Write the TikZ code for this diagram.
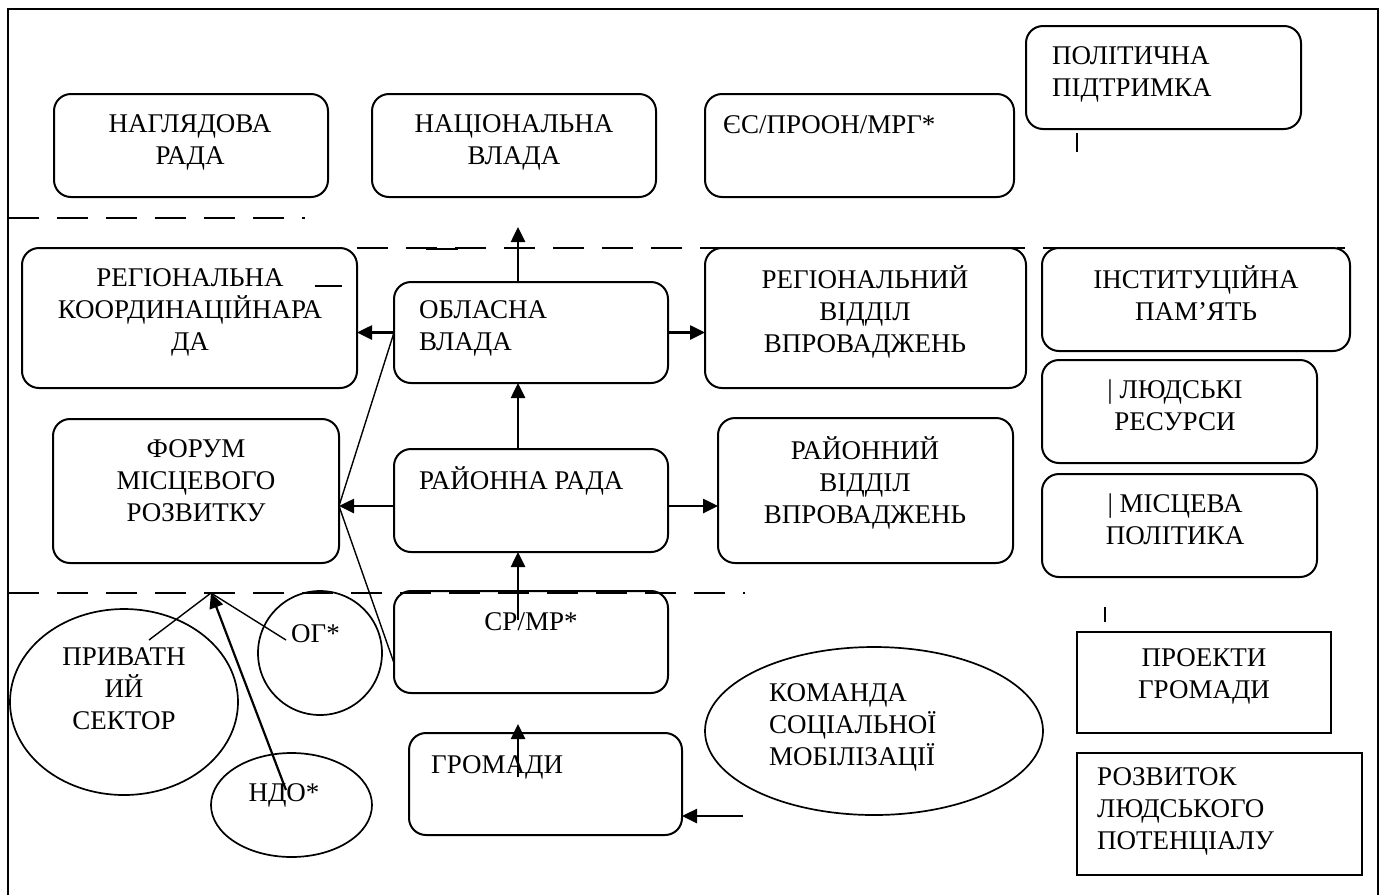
\documentclass[tikz,border=0pt]{standalone}
\usepackage{fontspec}
\setmainfont{Liberation Serif}
\usetikzlibrary{arrows.meta,fit,shapes.geometric}
\begin{document}
\begin{tikzpicture}[x=1pt,y=-1pt,
  box/.style={draw, rounded corners=17pt, line width=2pt, inner sep=0pt, outer sep=0pt},
  sqbox/.style={draw, line width=2.2pt, inner sep=0pt, outer sep=0pt},
  ell/.style={draw, ellipse, line width=1.7pt, inner sep=0pt, outer sep=0pt},
  txt/.style={inner sep=0pt, font=\fontsize{27}{32}\selectfont, execute at begin node=\strut, execute at end node=\strut},
  arr/.style={line width=2.6pt, -{Triangle[length=15pt,width=14pt]}},
  thinline/.style={line width=1.4pt},
  dashline/.style={line width=2pt, dash pattern=on 31pt off 18pt},
  tick/.style={line width=1.6pt},
]
\useasboundingbox (0,0) rectangle (1383,895);
% frame
\draw[line width=2pt] (8,895) -- (8,9) -- (1378,9) -- (1378,895);
% dashed level separators
\draw[dashline] (8,218) -- (305,218);
\draw[dashline] (357,248) -- (1345,248);
\draw[dashline] (8,593) -- (745,593);
\draw[line width=2pt] (426,249) -- (458,249);
\draw[line width=2pt] (315,286) -- (342,286);
% rounded boxes
\node[box, fit={(54,94) (328,197)}] (nag) {};
\node[box, fit={(372,94) (656,197)}] (nat) {};
\node[box, fit={(705,94) (1014,197)}] (es) {};
\node[box, fit={(1026,26) (1301,129)}] (pol) {};
\node[box, fit={(22,248) (357,388)}] (reg) {};
\node[box, fit={(394,282) (668,383)}] (obl) {};
\node[box, fit={(705,248) (1026,388)}] (rvv) {};
\node[box, fit={(1042,248) (1350,351)}] (inst) {};
\node[box, fit={(1042,360) (1317,463)}] (lyud) {};
\node[box, fit={(1042,474) (1317,577)}] (misc) {};
\node[box, fit={(53,419) (339,563)}] (forum) {};
\node[box, fit={(394,449) (668,552)}] (rayon) {};
\node[box, fit={(718,418) (1013,563)}] (rav) {};
\node[box, fit={(394,591) (668,693)}] (srmr) {};
\node[box, fit={(409,733) (682,835)}] (grom) {};
% square boxes
\node[sqbox, fit={(1077,632) (1331,733)}] (pro) {};
\node[sqbox, fit={(1077,753) (1362,875)}] (roz) {};
% ellipses
\node[ell, minimum width=228pt, minimum height=186pt] (pryv) at (124,702) {};
\node[ell, minimum width=124pt, minimum height=124pt] (og) at (320,653) {};
\node[ell, minimum width=161pt, minimum height=104pt] (ndo) at (291.5,805) {};
\node[ell, minimum width=338pt, minimum height=168pt] (kom) at (874,731) {};
% texts
\node[txt, align=center] (tnag) at (190,144) {НАГЛЯДОВА\\РАДА};
\node[txt, align=center] (tnat) at (514,144) {НАЦІОНАЛЬНА\\ВЛАДА};
\node[txt, anchor=west] (tes) at (723,127) {ЄС/ПРООН/МРГ*};
\node[txt, align=left, anchor=west] (tpol) at (1052,76) {ПОЛІТИЧНА\\ПІДТРИМКА};
\node[txt, align=center] (treg) at (190,314) {РЕГІОНАЛЬНА\\КООРДИНАЦІЙНАРА\\ДА};
\node[txt, align=left, anchor=west] (tobl) at (419,330) {ОБЛАСНА\\ВЛАДА};
\node[txt, align=center] (trvv) at (865,314) {РЕГІОНАЛЬНИЙ\\ВІДДІЛ\\ВПРОВАДЖЕНЬ};
\node[txt, align=center] (tinst) at (1196,298) {ІНСТИТУЦІЙНА\\ПАМ’ЯТЬ};
\node[txt, align=center] (tlyud) at (1175,410) {| ЛЮДСЬКІ\\РЕСУРСИ};
\node[txt, align=center] (tmisc) at (1175,524) {| МІСЦЕВА\\ПОЛІТИКА};
\node[txt, align=center] (tforum) at (196,485) {ФОРУМ\\МІСЦЕВОГО\\РОЗВИТКУ};
\node[txt, anchor=west] (trayon) at (419,483) {РАЙОННА РАДА};
\node[txt, align=center] (trav) at (865,485) {РАЙОННИЙ\\ВІДДІЛ\\ВПРОВАДЖЕНЬ};
\node[txt] (tsrmr) at (531,624) {СР/МР*};
\node[txt, anchor=west] (tgrom) at (431,767) {ГРОМАДИ};
\node[txt, align=center] (tpryv) at (124,693) {ПРИВАТН\\ИЙ\\СЕКТОР};
\node[txt, anchor=west] (tog) at (291,636) {ОГ*};
\node[txt] (tndo) at (284,795) {НДО*};
\node[txt, align=left, anchor=west] (tkom) at (769,729) {КОМАНДА\\СОЦІАЛЬНОЇ\\МОБІЛІЗАЦІЇ};
\node[txt, align=center] (tpro) at (1204,678) {ПРОЕКТИ\\ГРОМАДИ};
\node[txt, align=left, anchor=west] (troz) at (1097,813) {РОЗВИТОК\\ЛЮДСЬКОГО\\ПОТЕНЦІАЛУ};
% helper coordinates
\coordinate (col) at (518,0);
\coordinate (oblup) at (518,227);
\coordinate (yR) at (0,506);
\coordinate (srmrstart) at (518,620);
\coordinate (gromstart) at (518,777);
\coordinate (gromtip) at (518,724);
\coordinate (komend) at (743,816);
\coordinate (apex) at (211,593);
\coordinate (pA) at (149,640);
\coordinate (pB) at (286,640);
\coordinate (pN) at (286,790);
\coordinate (srmrL) at (394,663);
\coordinate (tk1a) at (1077,133);
\coordinate (tk1b) at (1077,152);
\coordinate (tk2a) at (1105,607);
\coordinate (tk2b) at (1105,622);
% arrows
\draw[arr] (obl.north -| col) -- (oblup);
\draw[arr] (rayon.north -| col) -- (obl.south -| col);
\draw[arr] (srmrstart) -- (rayon.south -| col);
\draw[arr] (gromstart) -- (gromtip);
\draw[arr] (obl.west) -- (reg.east |- obl.west);
\draw[arr] (obl.east) -- (rvv.west |- obl.east);
\draw[arr] (rayon.west |- yR) -- (forum.east |- yR);
\draw[arr] (rayon.east |- yR) -- (rav.west |- yR);
\draw[arr] (komend) -- (grom.east |- komend);
\draw[arr, line width=2.2pt] (pN) -- (apex);
% thin lines
\draw[thinline] (pA) -- (apex) -- (pB);
\draw[thinline] (obl.west) -- (forum.east |- yR) -- (srmrL);
\draw[tick] (tk1a) -- (tk1b);
\draw[tick] (tk2a) -- (tk2b);
\end{tikzpicture}
\end{document}
